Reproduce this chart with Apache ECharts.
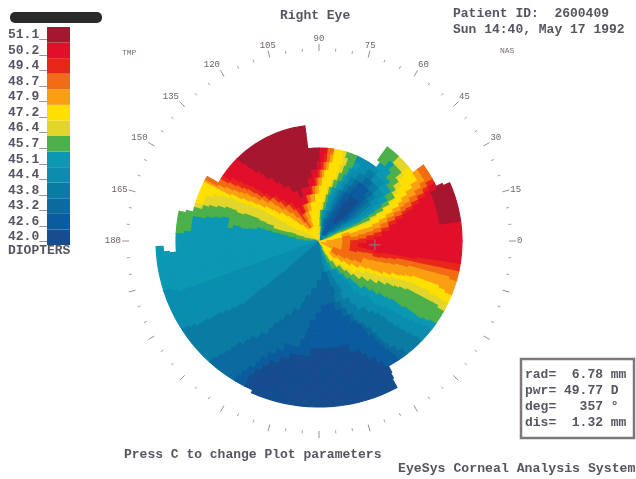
<!DOCTYPE html>
<html><head><meta charset="utf-8">
<style>html,body{margin:0;padding:0;background:#fff}#c{width:636px;height:479px}</style>
<script src="https://cdn.jsdelivr.net/npm/echarts@6/dist/echarts.min.js"></script>
</head><body><div id="c"></div>
<script>
// Colour scale, index 0 = lowest power
const diopters = ['42.0','42.6','43.2','43.8','44.4','45.1','45.7','46.4','47.2','47.9','48.7','49.4','50.2','51.1'];
const bandColors = ['#154d8e','#0b5c9e','#0b6a9e','#0a7ca4','#0a8dae','#0b98b2','#4db04a','#e2d62a','#ffdf00','#fb9f12','#f26c12','#e9261a','#e20f2a','#a6172f'];
const angleLabels = [0,15,30,45,60,75,90,105,120,135,150,165,180];
// Ring edges (radial distance)
const ringEdges = [0,8,16,24,32,40,48,56,64,72,80,88,93,100,108,116,122,129,136,143,150,156,163,166];
// One list per ring, walking counter-clockwise from 0 deg: [band, end angle]; band -1 = no data
const ringRuns = [
[[8,25],[5,50],[3,75],[5,85],[7,110],[8,150],[7,165],[6,178],[5,200],[4,225],[3,285],[5,295],[6,305],[8,330],[9,350],[8,360]],
[[9,8],[8,22],[6,30],[5,38],[3,46],[1,70],[3,80],[5,86],[7,95],[8,148],[7,168],[6,180],[5,200],[4,224],[3,282],[5,292],[6,298],[7,304],[8,330],[9,360]],
[[9,10],[8,22],[7,24],[6,28],[5,33],[3,40],[2,46],[1,70],[2,78],[3,82],[5,86],[6,90],[8,112],[9,120],[10,128],[9,136],[8,152],[7,166],[6,177],[5,200],[4,223],[3,280],[4,288],[5,293],[6,300],[7,305],[8,312],[9,322],[10,340],[9,360]],
[[10,12],[9,18],[8,22],[7,23],[6,27],[5,30],[4,34],[3,38],[2,43],[1,48],[0,56],[1,66],[2,72],[3,77],[4,82],[5,86],[6,89],[7,92],[8,110],[9,118],[10,124],[11,127],[10,131],[9,140],[8,154],[7,164],[6,173],[5,200],[4,222],[3,282],[4,290],[5,296],[6,305],[7,310],[8,318],[9,326],[10,360]],
[[11,2],[10,8],[9,15],[8,21],[7,23],[6,26],[5,29],[4,33],[3,36],[2,40],[1,45],[0,58],[1,64],[2,68],[3,72],[4,76],[5,80],[6,84],[7,87],[8,104],[9,110],[10,115],[11,118],[12,122],[11,127],[10,134],[9,141],[8,153],[7,165],[6,171],[5,200],[4,222],[3,275],[2,285],[3,291],[4,300],[5,304],[6,311],[7,315],[8,322],[9,330],[10,344],[11,360]],
[[11,4],[10,10],[9,16],[8,21],[7,23],[6,26],[5,29],[4,33],[3,37],[2,41],[1,45],[0,58],[1,63],[2,67],[3,71],[4,75],[5,79],[6,82],[7,84],[8,96],[9,102],[10,106],[11,108],[12,126],[11,130],[10,137],[9,143],[8,153],[7,165],[6,170],[5,200],[4,222],[3,268],[2,285],[3,293],[4,303],[5,307],[6,314],[7,318],[8,326],[9,333],[10,346],[11,352],[12,358],[11,360]],
[[12,2],[11,7],[10,11],[9,16],[8,21],[7,23],[6,27],[5,30],[4,34],[3,38],[2,42],[1,46],[0,56],[1,62],[2,66],[3,70],[4,73],[5,77],[6,80],[7,82],[8,91],[9,95],[10,98],[11,100],[12,110],[13,114],[12,131],[11,135],[10,140],[9,146],[8,152],[7,162],[6,169],[5,200],[4,221],[3,262],[2,288],[3,295],[4,306],[5,311],[6,317],[7,324],[8,330],[9,340],[10,347],[11,351],[12,360]],
[[12,5],[11,9],[10,13],[9,18],[8,23],[7,25],[6,28],[5,31],[4,35],[3,39],[2,43],[1,58],[2,62],[3,66],[4,69],[5,73],[6,77],[7,79],[8,88],[9,91],[10,93],[11,95],[12,101],[13,119],[12,134],[11,137],[10,141],[9,147],[8,152],[7,161],[6,168],[5,200],[4,221],[3,257],[2,286],[3,293],[4,305],[5,312],[6,321],[7,328],[8,332],[9,341],[10,345],[11,349],[12,360]],
[[12,9],[11,12],[10,16],[9,20],[8,25],[7,26],[6,29],[5,33],[4,38],[3,42],[2,46],[1,56],[2,60],[3,64],[4,67],[5,70],[6,74],[7,76],[8,86],[9,88],[10,90],[11,92],[12,97],[13,124],[12,138],[11,141],[10,144],[9,149],[8,152],[7,160],[6,170],[5,200],[4,221],[3,255],[2,272],[1,284],[2,290],[3,298],[4,308],[5,316],[6,324],[7,330],[8,333],[9,342],[10,346],[11,350],[12,360]],
[[12,13],[11,16],[10,19],[9,22],[8,27],[7,28],[6,31],[5,36],[4,42],[3,48],[2,54],[3,60],[4,66],[5,68],[6,72],[7,75],[8,83],[9,85],[10,87],[11,89],[12,92],[13,127],[12,140],[11,143],[10,146],[9,150],[8,153],[7,160],[6,171],[5,200],[4,220],[3,250],[2,268],[1,288],[2,292],[3,300],[4,312],[5,318],[6,327],[7,332],[8,335],[9,343],[10,347],[11,350],[12,360]],
[[12,16],[11,18],[10,21],[9,24],[8,29],[7,30],[6,35],[5,42],[4,50],[3,56],[4,62],[5,66],[6,71],[7,74],[8,81],[9,83],[10,85],[11,87],[12,90],[13,130],[12,141],[11,144],[10,147],[9,151],[8,154],[7,161],[6,170],[5,200],[4,220],[3,246],[2,264],[1,292],[2,295],[3,305],[4,312],[5,320],[6,329],[7,334],[8,337],[9,344],[10,348],[11,350],[12,360]],
[[12,18],[11,20],[10,23],[9,26],[8,32],[7,34],[6,40],[5,50],[4,66],[6,73],[7,75],[8,81],[10,85],[12,90],[13,131],[12,142],[11,145],[10,148],[9,152],[8,154],[7,160],[6,172],[5,200],[4,220],[3,244],[2,263],[1,295],[2,297],[3,308],[4,314],[5,321],[6,330],[7,335],[8,338],[9,344],[10,348],[11,350],[12,360]],
[[12,19],[11,21],[10,24],[9,28],[8,34],[7,37],[6,44],[5,52],[-1,97],[13,133],[12,143],[11,146],[10,149],[9,152],[8,154],[7,160],[6,166],[5,200],[4,220],[3,242],[2,262],[1,297],[2,299],[3,310],[4,316],[5,322],[6,331],[7,335.5],[8,339],[9,345],[10,348],[11,350],[12,360]],
[[12,21],[11,23],[10,26],[9,30],[8,38],[7,40],[6,46],[5,49],[6,54],[-1,97],[13,134],[12,144],[11,147],[10,150],[9,153],[8,155],[7,161],[6,167],[5,200],[4,219],[3,241],[2,260],[1,298],[2,301],[3,311],[4,317],[5,322],[6,332],[7,336],[8,340],[9,345],[10,348],[11,351],[12,360]],
[[12,23],[11,25],[10,28],[9,32],[8,40],[7,47],[6,54],[-1,97],[13,135],[12,146],[11,148],[10,151],[9,153],[8,156],[7,162],[6,168],[5,200],[4,218],[3,238],[2,252],[1,266],[0,286],[1,300],[2,302],[3,312],[4,318],[5,323],[6,332],[7,336],[8,340],[9,345],[10,348],[11,351],[12,360]],
[[12,25],[11,27],[10,30],[9,36],[-1,150],[10,152],[9,153],[8,158],[7,163],[6,169],[5,200],[4,217],[3,235],[2,249],[1,256],[0,291],[1,301],[2,303],[3,313],[4,319],[5,323],[6,332],[7,336],[8,340],[9,345],[10,348],[11,351],[12,360]],
[[12,8],[13,24],[12,27],[11,29],[10,36],[-1,150],[10,152],[9,153],[8,163],[7,165],[6,169],[5,200],[4,216],[3,234],[2,246],[1,252],[0,293],[1,302],[2,304],[3,314],[4,320],[5,323],[6,332],[7,335],[8,340],[9,345],[10,348],[11,351],[12,360]],
[[12,8],[13,25],[-1,167],[6,176],[5,200],[4,216],[3,232],[2,244],[1,248],[0,296],[1,303],[2,306],[3,315],[4,321],[5,324],[6,332],[7,335],[8,339],[9,345],[10,348],[11,351],[12,360]],
[[12,8],[13,24],[-1,168],[6,177],[5,200],[4,215],[3,231],[2,243],[1,246],[0,298],[1,304],[2,308],[3,316],[4,322],[5,325],[6,331],[7,334.5],[8,338],[9,344],[10,348],[11,351],[12,360]],
[[-1,184.5],[5,200],[4,215],[3,230],[2,241],[1,244],[0,299],[-1,360]],
[[-1,184],[5,199],[4,214],[3,229],[2,240],[1,243],[0,298.5],[-1,360]],
[[-1,182],[5,198],[4,213],[3,228],[2,239],[1,243],[0,298],[-1,360]],
[[-1,246],[0,298],[-1,360]]
];
const cursorPoint = [[56,356]];
const readout = ['rad=  6.78 mm','pwr= 49.77 D','deg=   357 \u00b0','dis=  1.32 mm'];

const cells = [];
ringRuns.forEach((runs,k)=>{
  let start = 0;
  runs.forEach(([band,end])=>{ if(band>=0) cells.push([start,end,ringEdges[k],ringEdges[k+1],band]); start = end; });
});

const mono = '"Liberation Mono","DejaVu Sans Mono",monospace';
const ink = '#555560';
const txt = (x,y,t,size,extra) => ({type:'text',x,y,style:Object.assign({text:t,fill:ink,font:'bold '+size+'px '+mono,textVerticalAlign:'middle'},extra||{})});

const chart = echarts.init(document.getElementById('c'),null,{renderer:'canvas'});
chart.setOption({
  animation:false,
  backgroundColor:'#ffffff',
  polar:{center:[319,241],radius:[0,190]},
  radiusAxis:{type:'value',min:0,max:190,show:false},
  angleAxis:{type:'value',min:0,max:360,startAngle:0,clockwise:false,interval:15,
    axisLine:{show:false},splitLine:{show:false},minorSplitLine:{show:false},
    axisTick:{show:true,length:7,lineStyle:{color:'#9a8f8f',width:1}},
    minorTick:{show:true,splitNumber:3,length:3,lineStyle:{color:'#aaa0a0',width:1}},
    axisLabel:{margin:8,fontFamily:mono,fontSize:9,color:'#6f6268',
      formatter:v=>angleLabels.includes(v)?String(v):''}},
  grid:{left:47,top:27,width:23,height:218,containLabel:false},
  xAxis:{type:'value',min:0,max:1,show:false},
  yAxis:{type:'category',data:diopters.map(d=>d+'_'),inverse:false,
    axisLine:{show:false},axisTick:{show:false},splitLine:{show:false},
    axisLabel:{margin:0,fontFamily:mono,fontWeight:'bold',fontSize:13,color:ink,interval:0}},
  series:[
    {type:'custom',coordinateSystem:'polar',data:cells,silent:true,
     renderItem:(params,api)=>{
       const a0=api.value(0),a1=api.value(1),r0=api.value(2),r1=api.value(3),band=api.value(4);
       const n=Math.max(1,Math.ceil((a1-a0)/3)),pts=[];
       for(let i=0;i<=n;i++) pts.push(api.coord([r1,a0+(a1-a0)*i/n]).slice(0,2));
       for(let i=n;i>=0;i--) pts.push(api.coord([r0,a0+(a1-a0)*i/n]).slice(0,2));
       return {type:'polygon',shape:{points:pts},style:{fill:bandColors[band],stroke:bandColors[band],lineWidth:1.2}};
     }},
    {type:'bar',xAxisIndex:0,yAxisIndex:0,barWidth:'100%',silent:true,
     data:diopters.map((d,i)=>({value:1,itemStyle:{color:bandColors[i]}}))},
    {type:'scatter',coordinateSystem:'polar',data:cursorPoint,silent:true,symbolSize:11,z:5,
     symbol:'path://M4.5 0h1v4.5H10v1H5.5V10h-1V5.5H0v-1h4.5z',itemStyle:{color:'#8b8790'}}
  ],
  graphic:[
    {type:'rect',shape:{x:10,y:12,width:92,height:11,r:5},style:{fill:'#2a2a2a'}},
    txt(8,251,'DIOPTERS',13),
    txt(280,16,'Right Eye',13),
    txt(453,14,'Patient ID:  2600409',13),
    txt(453,30,'Sun 14:40, May 17 1992',13),
    txt(122,53,'TMP',8,{fill:'#7b7076',font:'8px '+mono}),
    txt(500,51,'NAS',8,{fill:'#7b7076',font:'8px '+mono}),
    txt(124,455,'Press C to change Plot parameters',13),
    txt(398,469,'EyeSys Corneal Analysis System',13.2),
    {type:'rect',shape:{x:521,y:359,width:113,height:79},style:{fill:'#fff',stroke:'#7c787c',lineWidth:2.5}},
    ...readout.map((t,i)=>txt(525,[375,391,407,423][i],t,13))
  ]
});
</script></body></html>
